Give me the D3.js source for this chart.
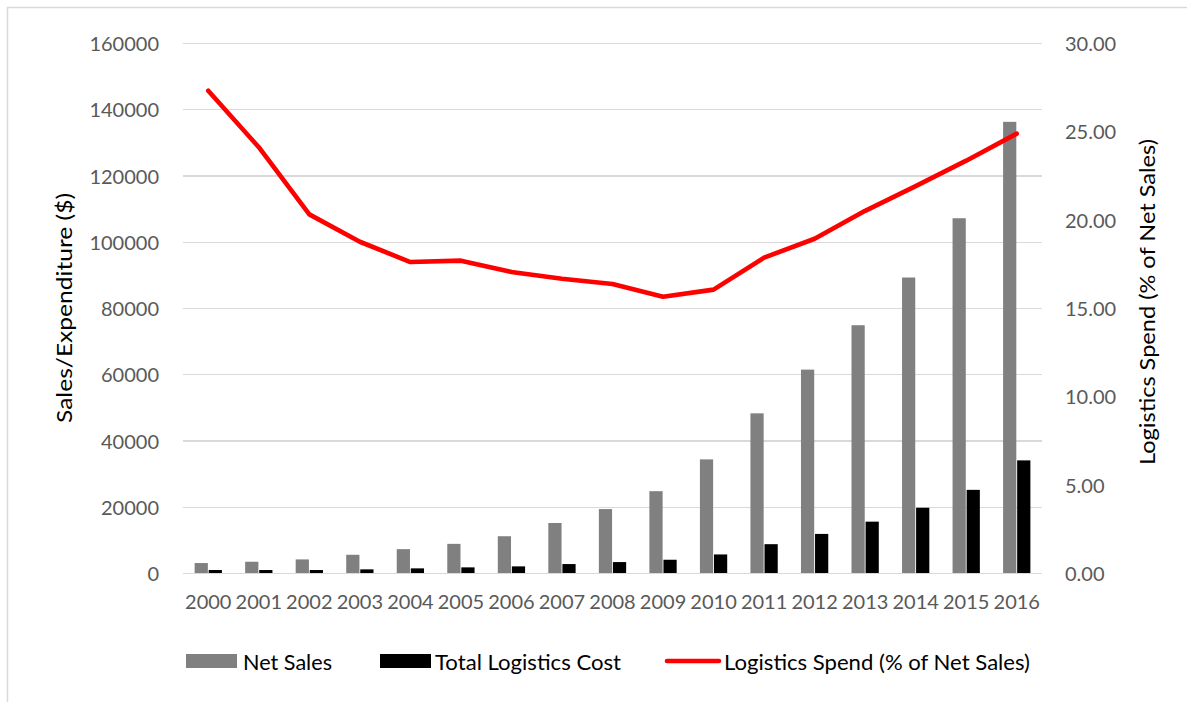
<!DOCTYPE html>
<html>
<head>
<meta charset="utf-8">
<script src="https://cdn.jsdelivr.net/npm/d3@7"></script>
<style>
  html, body { margin: 0; padding: 0; background: #fff; }
  svg { display: block; font-family: Lato, "Open Sans", sans-serif; }
</style>
</head>
<body>
<svg id="chart" width="1187" height="702"></svg>
<script>
// ---- data ----
const years = ["2000","2001","2002","2003","2004","2005","2006","2007","2008","2009","2010","2011","2012","2013","2014","2015","2016"];
const netSales = [3000, 3400, 4100, 5500, 7200, 8800, 11100, 15100, 19300, 24700, 34300, 48200, 61400, 74800, 89200, 107100, 136200];
const logisticsCost = [900, 900, 900, 1100, 1400, 1700, 2000, 2700, 3300, 4000, 5600, 8700, 11800, 15500, 19700, 25100, 34000];
const logisticsPct = [27.3, 24.1, 20.3, 18.75, 17.6, 17.68, 17.04, 16.66, 16.36, 15.64, 16.04, 17.85, 18.92, 20.5, 21.9, 23.34, 24.87];
const leftTicks = [0, 20000, 40000, 60000, 80000, 100000, 120000, 140000, 160000];
const rightTicks = [0, 5, 10, 15, 20, 25, 30];
const seriesNames = ["Net Sales", "Total Logistics Cost", "Logistics Spend (% of Net Sales)"];
const leftTitle = "Sales/Expenditure ($)";
const rightTitle = "Logistics Spend (% of Net Sales)";

// ---- layout ----
const svg = d3.select("#chart");
const plot = { left: 183, right: 1042, top: 43, bottom: 573 };
const gridColor = "#d9d9d9";
const tickColor = "#595959";

svg.append("rect")
  .attr("x", 7.5).attr("y", 7.5).attr("width", 1200).attr("height", 740)
  .attr("fill", "#fff").attr("stroke", gridColor).attr("stroke-width", 1.5);

const x = d3.scaleBand().domain(years).range([plot.left, plot.right]).paddingInner(0).paddingOuter(0);
const yL = d3.scaleLinear().domain([0, 160000]).range([plot.bottom, plot.top]);
const yR = d3.scaleLinear().domain([0, 30]).range([plot.bottom, plot.top]);
const xSub = d3.scaleBand().domain(["sales", "cost"])
  .range([x.bandwidth() * 0.23, x.bandwidth() * 0.77]).paddingInner(0.06);

// gridlines (left axis)
const gridAxis = d3.axisLeft(yL).tickValues(leftTicks).tickSize(-(plot.right - plot.left)).tickFormat("");
const gg = svg.append("g").attr("transform", `translate(${plot.left},0)`).call(gridAxis);
gg.select(".domain").remove();
gg.selectAll(".tick line").attr("stroke", gridColor).attr("stroke-width", 1.3).attr("shape-rendering", "crispEdges");

// left tick labels
const la = d3.axisLeft(yL).tickValues(leftTicks).tickSize(0).tickPadding(24).tickFormat(d3.format("d"));
const lg = svg.append("g").attr("transform", `translate(${plot.left},0)`).call(la);
lg.select(".domain").remove();
lg.selectAll("text").attr("fill", tickColor).attr("font-size", 20).attr("font-family", "Lato, sans-serif").attr("dy", "0.38em");

// right tick labels
const ra = d3.axisRight(yR).tickValues(rightTicks).tickSize(0).tickPadding(23).tickFormat(d3.format(".2f"));
const rg = svg.append("g").attr("transform", `translate(${plot.right},0)`).call(ra);
rg.select(".domain").remove();
rg.selectAll("text").attr("fill", tickColor).attr("font-size", 20).attr("font-family", "Lato, sans-serif").attr("dy", "0.38em");

// x labels
const xa = d3.axisBottom(x).tickSize(0).tickPadding(22);
const xg = svg.append("g").attr("transform", `translate(0,${plot.bottom})`).call(xa);
xg.select(".domain").remove();
xg.selectAll("text").attr("fill", tickColor).attr("font-size", 20).attr("font-family", "Lato, sans-serif");

// bars
const barG = svg.append("g");
barG.selectAll("rect.sales").data(years).join("rect").attr("class", "sales")
  .attr("x", (d) => x(d) + xSub("sales"))
  .attr("width", xSub.bandwidth())
  .attr("y", (d, i) => yL(netSales[i]))
  .attr("height", (d, i) => yL(0) - yL(netSales[i]))
  .attr("fill", "#808080");
barG.selectAll("rect.cost").data(years).join("rect").attr("class", "cost")
  .attr("x", (d) => x(d) + xSub("cost"))
  .attr("width", xSub.bandwidth())
  .attr("y", (d, i) => yL(logisticsCost[i]))
  .attr("height", (d, i) => yL(0) - yL(logisticsCost[i]))
  .attr("fill", "#000000");

// line
const line = d3.line()
  .x((d, i) => x(years[i]) + x.bandwidth() / 2)
  .y((d) => yR(d));
svg.append("path").datum(logisticsPct)
  .attr("d", line)
  .attr("fill", "none")
  .attr("stroke", "#ff0000")
  .attr("stroke-width", 4.6)
  .attr("stroke-linejoin", "round")
  .attr("stroke-linecap", "round");

// axis titles
svg.append("text")
  .attr("transform", "translate(64,308) rotate(-90)")
  .attr("text-anchor", "middle").attr("dy", "0.35em")
  .attr("font-size", 22).attr("fill", "#000")
  .attr("textLength", 230).attr("lengthAdjust", "spacingAndGlyphs")
  .text(leftTitle);
svg.append("text")
  .attr("transform", "translate(1147,302) rotate(-90)")
  .attr("text-anchor", "middle").attr("dy", "0.35em")
  .attr("font-size", 22).attr("fill", "#000")
  .attr("textLength", 326).attr("lengthAdjust", "spacingAndGlyphs")
  .text(rightTitle);

// legend
const legend = [
  { name: seriesNames[0], type: "rect", color: "#808080", sx: 186, sw: 51, tx: 243, tw: 89 },
  { name: seriesNames[1], type: "rect", color: "#000000", sx: 380, sw: 51, tx: 435, tw: 186 },
  { name: seriesNames[2], type: "line", color: "#ff0000", sx: 667, sw: 52, tx: 724, tw: 306 }
];
const lgG = svg.append("g");
legend.forEach((l) => {
  if (l.type === "rect") {
    lgG.append("rect").attr("x", l.sx).attr("y", 654).attr("width", l.sw).attr("height", 14).attr("fill", l.color);
  } else {
    lgG.append("line").attr("x1", l.sx).attr("x2", l.sx + l.sw).attr("y1", 661).attr("y2", 661)
      .attr("stroke", l.color).attr("stroke-width", 4.6).attr("stroke-linecap", "round");
  }
  lgG.append("text").attr("x", l.tx).attr("y", 669.5)
    .attr("font-size", 22).attr("fill", "#000")
    .attr("textLength", l.tw).attr("lengthAdjust", "spacingAndGlyphs")
    .text(l.name);
});
</script>
</body>
</html>
